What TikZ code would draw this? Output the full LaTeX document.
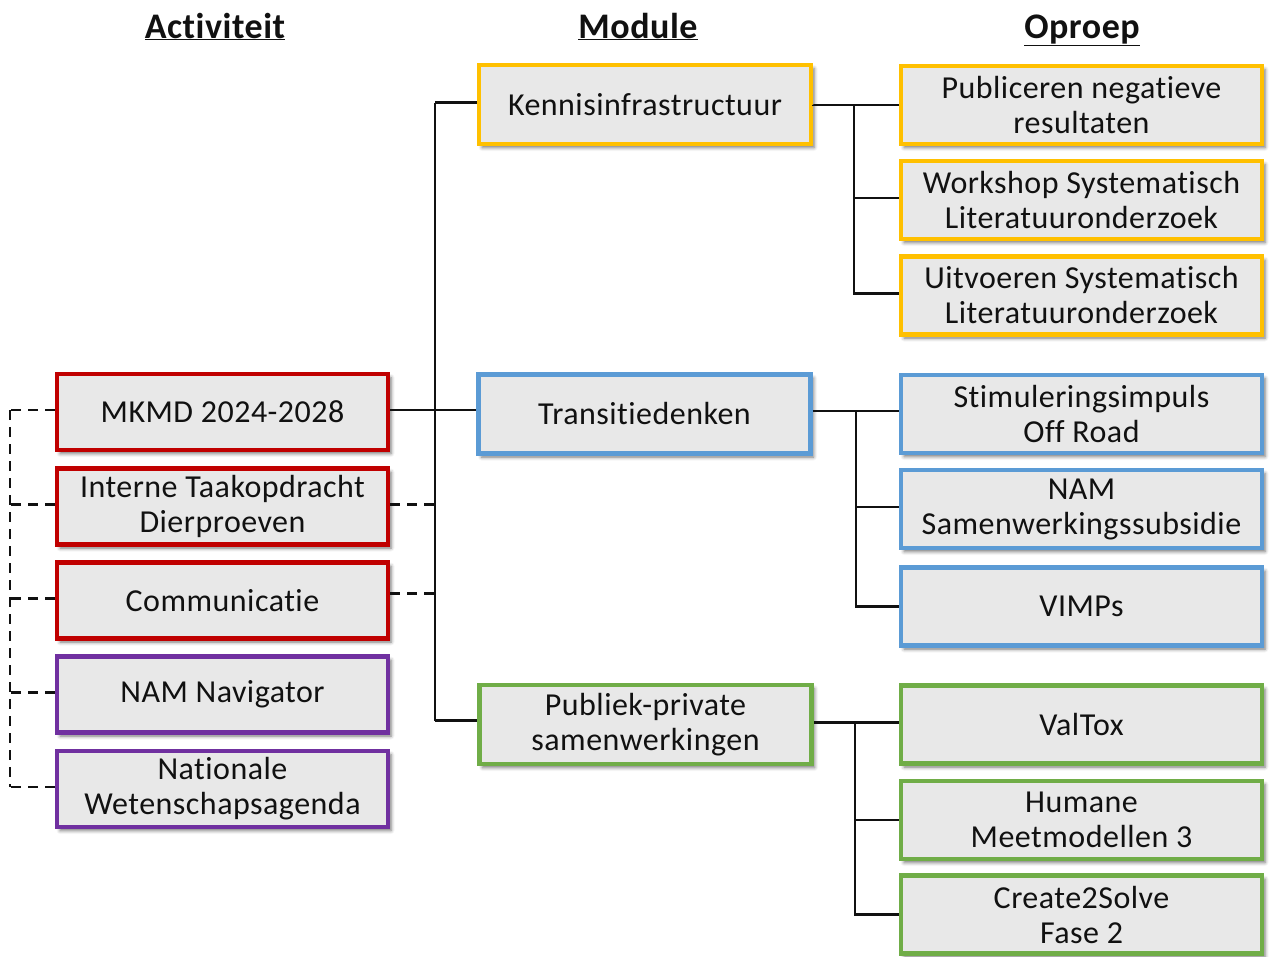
\documentclass[tikz,border=0pt]{standalone}
\usepackage{fontspec}
\setmainfont{Carlito}[Ligatures=NoCommon, LetterSpace=1.5]
\usetikzlibrary{shadows.blur}
\definecolor{boxfill}{HTML}{E8E8E8}
\definecolor{cred}{HTML}{C00000}
\definecolor{cyellow}{HTML}{FFC000}
\definecolor{cblue}{HTML}{5B9BD5}
\definecolor{cgreen}{HTML}{70AD47}
\definecolor{cpurple}{HTML}{7030A0}
\definecolor{ink}{HTML}{111111}
\tikzset{
  box/.style={draw, line width=4.5pt, fill=boxfill, align=center, inner sep=0pt,
    text=ink, font=\fontsize{32}{35}\selectfont,
    blur shadow={shadow xshift=3pt, shadow yshift=-3.5pt, shadow blur radius=3.5pt, shadow opacity=55}},
  actbox/.style={box, minimum width=331pt, minimum height=76pt},
  modbox/.style={box, minimum width=332pt, minimum height=79pt},
  oprbox/.style={box, minimum width=361pt, minimum height=78pt},
  heading/.style={font=\fontsize{36}{40}\selectfont\bfseries, text=ink, anchor=base},
  link/.style={line width=2.8pt, draw=ink},
  dlink/.style={line width=2.8pt, draw=ink, dash pattern=on 10pt off 7pt},
}
\begin{document}
\begin{tikzpicture}[x=1pt,y=-1pt]
\useasboundingbox (0,0) rectangle (1269,956);

% column headings
\node[heading] (hact) at (215,38) {\underline{Activiteit}};
\node[heading] (hmod) at (638,38) {\underline{Module}};
\node[heading] (hopr) at (1082,38) {\underline{Oproep}};

% activities
\node[actbox, draw=cred] (mkmd) at (222.5,412) {MKMD 2024-2028};
\node[actbox, draw=cred] (itd) at (222.5,506.5) {Interne Taakopdracht\\Dierproeven};
\node[actbox, draw=cred] (comm) at (222.5,600.5) {Communicatie};
\node[actbox, draw=cpurple] (nav) at (222.5,694.5) {NAM Navigator};
\node[actbox, draw=cpurple] (nwa) at (222.5,789) {Nationale\\Wetenschapsagenda};

% modules
\node[modbox, draw=cyellow] (kennis) at (645,104.5) {Kennisinfrastructuur};
\node[modbox, draw=cblue] (trans) at (644.5,414) {Transitiedenken};
\node[modbox, draw=cgreen] (pps) at (645.5,724.5) {Publiek-private\\samenwerkingen};

% calls
\node[oprbox, draw=cyellow] (o1) at (1081.5,105) {Publiceren negatieve\\resultaten};
\node[oprbox, draw=cyellow] (o2) at (1081.5,200) {Workshop Systematisch\\Literatuuronderzoek};
\node[oprbox, draw=cyellow] (o3) at (1081.5,295.5) {Uitvoeren Systematisch\\Literatuuronderzoek};
\node[oprbox, draw=cblue] (o4) at (1081.5,414) {Stimuleringsimpuls\\Off Road};
\node[oprbox, draw=cblue] (o5) at (1081.5,509) {NAM\\Samenwerkingssubsidie};
\node[oprbox, draw=cblue] (o6) at (1081.5,606.5) {VIMPs};
\node[oprbox, draw=cgreen] (o7) at (1081.5,724.5) {ValTox};
\node[oprbox, draw=cgreen] (o8) at (1081.5,820) {Humane\\Meetmodellen 3};
\node[oprbox, draw=cgreen] (o9) at (1081.5,914.5) {Create2Solve\\Fase 2};

% bus positions
\coordinate (trunk) at (435,0);
\coordinate (lbus) at (10,0);
\coordinate (kbus) at (854,0);
\coordinate (tbus) at (856,0);
\coordinate (pbus) at (855,0);

% activity to modules
\draw[link] ([yshift=2pt]mkmd.east) -- ([yshift=2pt]mkmd.east -| trunk);
\draw[link] ([yshift=2pt]kennis.west -| trunk) -- ([yshift=4pt]pps.west -| trunk);
\draw[link] ([yshift=2pt]kennis.west -| trunk) -- ([yshift=2pt]kennis.west);
\draw[link] ([yshift=4pt]trans.west -| trunk) -- ([yshift=4pt]trans.west);
\draw[link] ([yshift=4pt]pps.west -| trunk) -- ([yshift=4pt]pps.west);
\draw[dlink] ([yshift=2pt]itd.east) -- ([yshift=2pt]itd.east -| trunk);
\draw[dlink] ([yshift=7pt]comm.east) -- ([yshift=7pt]comm.east -| trunk);

% left dashed bracket
\draw[dlink] ([yshift=2pt]mkmd.west -| lbus) -- ([yshift=2pt]nwa.west -| lbus);
\foreach \n in {mkmd,itd,comm,nav,nwa}
  \draw[dlink] ([yshift=2pt]\n.west) -- ([yshift=2pt]\n.west -| lbus);

% modules to calls
\draw[link] (kennis.east) -- (o1.west -| kennis.east) -- (o1.west);
\draw[link] (o1.west -| kbus) -- ([yshift=2pt]o3.west -| kbus) -- ([yshift=2pt]o3.west);
\draw[link] ([yshift=2pt]o2.west -| kbus) -- ([yshift=2pt]o2.west);

\draw[link] ([yshift=3pt]trans.east) -- ([yshift=3pt]o4.west);
\draw[link] ([yshift=3pt]o4.west -| tbus) -- (o6.west -| tbus) -- (o6.west);
\draw[link] ([yshift=2pt]o5.west -| tbus) -- ([yshift=2pt]o5.west);

\draw[link] ([yshift=2pt]pps.east) -- ([yshift=2pt]o7.west);
\draw[link] ([yshift=2pt]o7.west -| pbus) -- (o9.west -| pbus) -- (o9.west);
\draw[link] (o8.west -| pbus) -- (o8.west);
\end{tikzpicture}
\end{document}
